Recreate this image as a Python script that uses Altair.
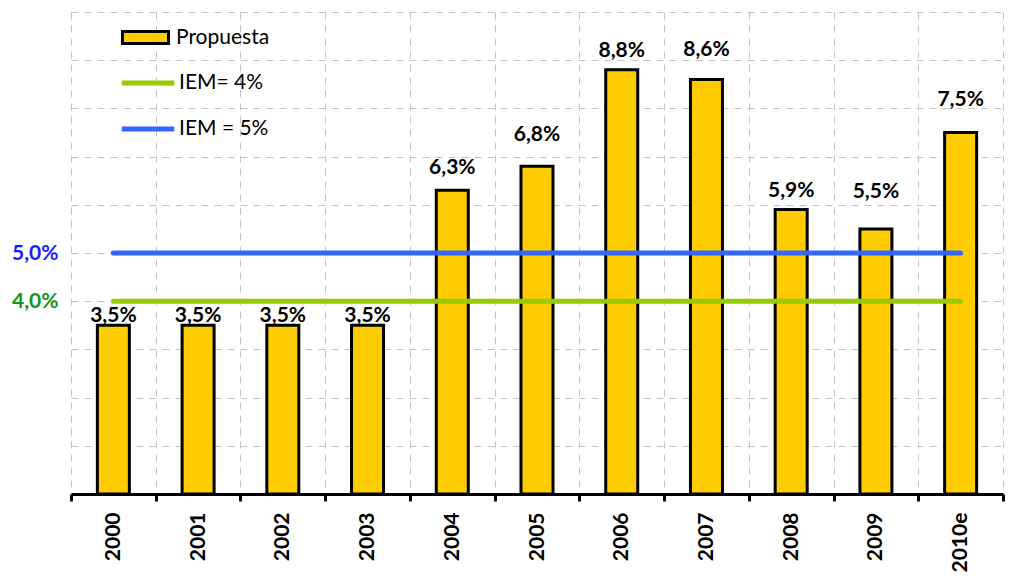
import altair as alt
import pandas as pd

years = ["2000", "2001", "2002", "2003", "2004", "2005", "2006", "2007", "2008", "2009", "2010e"]
values = [3.5, 3.5, 3.5, 3.5, 6.3, 6.8, 8.8, 8.6, 5.9, 5.5, 7.5]
labels = ["3,5%", "3,5%", "3,5%", "3,5%", "6,3%", "6,8%", "8,8%", "8,6%", "5,9%", "5,5%", "7,5%"]
# level (in % units) at which each value label sits in the reference
label_level = [3.57, 3.57, 3.57, 3.57, 6.64, 7.32, 9.07, 9.09, 6.16, 6.14, 8.05]
bar_series = ["Propuesta"]
line_names = ["IEM= 4%", "IEM = 5%"]
line_levels = [4.0, 5.0]
line_span = ["2000", "2010e"]

FONT = "Lato"
YELLOW = "#FFCC00"
GREEN = "#99CC00"
BLUE = "#3366FF"
GRID = "#c4c4c4"

bars = pd.DataFrame({"year": years, "value": values, "label": labels,
                     "label_level": label_level, "serie": bar_series[0]})
lines = pd.DataFrame(
    [{"year": yr, "value": lv, "linea": nm} for nm, lv in zip(line_names, line_levels) for yr in line_span]
)

x = alt.X(
    "year:N",
    sort=years,
    scale=alt.Scale(domain=years, paddingInner=0, paddingOuter=0),
    axis=alt.Axis(
        title=None, labelAngle=270, labelFont=FONT, labelFontSize=21, labelFontWeight="bold",
        labelColor="black", labelPadding=11, tickBand="extent", ticks=True, tickSize=7,
        tickWidth=3, tickColor="black", domainColor="black", domainWidth=3,
        grid=True, gridDash=[7, 6], gridColor=GRID, gridWidth=1,
    ),
)
y = alt.Y(
    "value:Q",
    scale=alt.Scale(domain=[0, 10], nice=False),
    axis=alt.Axis(
        title=None, values=list(range(11)),
        labelExpr="datum.value == 4 ? '4,0%' : (datum.value == 5 ? '5,0%' : '')",
        labelColor={"condition": {"test": "datum.value == 5", "value": "#1a1aff"}, "value": "#179317"},
        labelFont=FONT, labelFontSize=21, labelFontWeight="bold", labelPadding=13,
        domain=False, ticks=False, grid=True, gridDash=[7, 6], gridColor=GRID, gridWidth=1,
        minExtent=63,
    ),
)

bar_layer = alt.Chart(bars).mark_bar(width=32, stroke="black", strokeWidth=3).encode(
    x=x,
    y=y,
    fill=alt.Fill(
        "serie:N",
        scale=alt.Scale(domain=bar_series, range=[YELLOW]),
        legend=alt.Legend(
            title=None, orient="none", legendX=50, legendY=1,
            symbolType="M-1,-0.26H1V0.26H-1Z", symbolSize=2116,
            symbolStrokeColor="black", symbolStrokeWidth=3,
            labelFont=FONT, labelFontSize=21, labelColor="black", labelOffset=6, padding=0,
        ),
    ),
)

line_layer = alt.Chart(lines).mark_line(strokeWidth=5, strokeCap="round").encode(
    x=alt.X("year:N", sort=years),
    y=alt.Y("value:Q"),
    stroke=alt.Stroke(
        "linea:N",
        scale=alt.Scale(domain=line_names, range=[GREEN, BLUE]),
        legend=alt.Legend(
            title=None, orient="none", legendX=48, legendY=42,
            symbolType="stroke", symbolSize=2750, symbolStrokeWidth=5,
            labelFont=FONT, labelFontSize=21, labelColor="black", labelOffset=2, padding=0,
            rowPadding=7,
        ),
    ),
)

text_layer = alt.Chart(bars).mark_text(
    font=FONT, fontSize=21, fontWeight="bold", color="black", baseline="alphabetic"
).encode(x=alt.X("year:N", sort=years), y=alt.Y("label_level:Q"), text="label:N")

chart = (
    alt.layer(bar_layer, line_layer, text_layer)
    .properties(width=932, height=482, padding={"left": 0, "top": 4, "right": 0, "bottom": 0})
    .configure_view(stroke=None)
)

chart.save("out.html", embed_options={"renderer": "svg", "actions": False})
